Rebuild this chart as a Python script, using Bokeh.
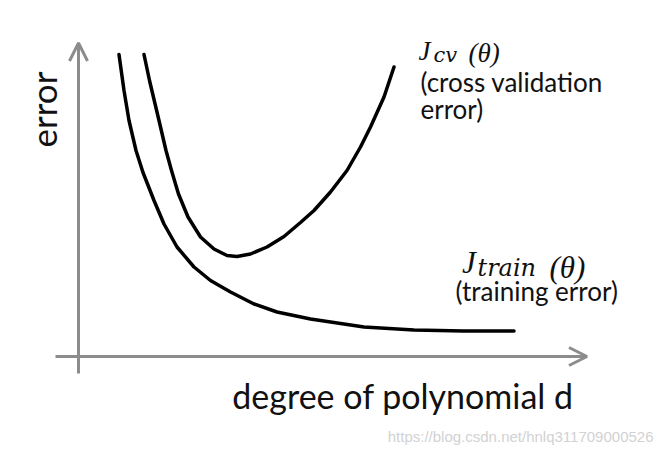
from bokeh.plotting import figure
from bokeh.models import Range1d, Arrow, OpenHead, Label, ColumnDataSource
from bokeh.embed import file_html
from bokeh.resources import INLINE
import math

# Curves (degree of polynomial d vs error, arbitrary units)
train_d = [0.81, 0.91, 1.01, 1.15, 1.29, 1.51, 1.71, 1.97, 2.31, 2.64, 3.04, 3.51,
           3.97, 4.64, 5.71, 6.71, 7.70, 8.71]
train_err = [6.04, 5.32, 4.72, 4.12, 3.68, 3.12, 2.65, 2.19, 1.79, 1.52, 1.29, 1.05,
             0.89, 0.75, 0.59, 0.53, 0.51, 0.51]

cv_d = [1.31, 1.42, 1.61, 1.75, 1.86, 2.00, 2.19, 2.44, 2.71, 2.97, 3.17, 3.44,
        3.77, 4.11, 4.44, 4.71, 5.04, 5.37, 5.64, 5.84, 6.11, 6.31]
cv_err = [6.04, 5.52, 4.72, 4.12, 3.72, 3.25, 2.79, 2.39, 2.15, 2.02, 2.00, 2.05,
          2.19, 2.40, 2.68, 2.92, 3.29, 3.72, 4.19, 4.59, 5.19, 5.79]

x_label = "degree of polynomial d"
y_label = "error"
cv_note = ["(cross validation", "error)"]
train_note = "(training error)"
watermark = "https://blog.csdn.net/hnlq311709000526"

AXIS_GRAY = "#8c8c8c"
INK = "#111111"
SANS = "Lato"
SERIF = "Liberation Serif"
SUBSERIF = "DejaVu Serif"

p = figure(width=655, height=446, output_backend="svg", toolbar_location=None,
           x_range=Range1d(-1.56, 11.54), y_range=Range1d(-1.8, 7.12),
           min_border=0, x_axis_location=None, y_axis_location=None)
p.outline_line_color = None
p.xgrid.visible = False
p.ygrid.visible = False
p.background_fill_color = "white"
p.border_fill_color = "white"

# axes as arrows
p.add_layout(Arrow(x_start=0, y_start=-0.34, x_end=0, y_end=6.27,
                   line_color=AXIS_GRAY, line_width=3,
                   end=OpenHead(size=18, line_color=AXIS_GRAY, line_width=3)))
p.add_layout(Arrow(x_start=-0.46, y_start=0, x_end=10.17, y_end=0,
                   line_color=AXIS_GRAY, line_width=3,
                   end=OpenHead(size=18, line_color=AXIS_GRAY, line_width=3)))

src_train = ColumnDataSource(dict(d=train_d, err=train_err))
src_cv = ColumnDataSource(dict(d=cv_d, err=cv_err))
p.line("d", "err", source=src_train, line_color="black", line_width=3.5,
       line_join="round", line_cap="round")
p.line("d", "err", source=src_cv, line_color="black", line_width=3.5,
       line_join="round", line_cap="round")

def lab(text, x, y, size, font=SANS, style="normal", align="left", base="alphabetic",
        angle=0, color=INK):
    p.add_layout(Label(x=x, y=y, text=text, text_font=font, text_font_size=f"{size}px",
                       text_font_style=style, text_align=align, text_baseline=base,
                       angle=angle, text_color=color))

# axis titles
lab(y_label, -0.71, 4.94, 35, align="center", base="middle", angle=math.pi / 2)
lab(x_label, 6.49, -0.78, 34, align="center", base="alphabetic")

# J_cv(theta)
lab("J", 6.80, 6.12, 27, font=SERIF, style="italic")
lab("cv", 7.10, 6.03, 21, font=SUBSERIF, style="italic")
lab("(\u03b8)", 7.80, 6.08, 27, font=SERIF, style="italic")
lab(cv_note[0], 6.84, 5.50, 26, base="middle")
lab(cv_note[1], 6.84, 4.96, 26, base="middle")

# J_train(theta)
lab("J", 7.67, 1.89, 31, font=SERIF, style="italic")
lab("train", 7.98, 1.77, 24, font=SUBSERIF, style="italic")
lab("(\u03b8)", 9.42, 1.79, 31, font=SERIF, style="italic")
lab(train_note, 7.54, 1.32, 26, base="middle")

# watermark
lab(watermark, 11.5, -1.6, 15, font="Liberation Sans", align="right", base="middle",
    color="#d2d2d2")

open("out.html", "w").write(file_html(p, INLINE))
